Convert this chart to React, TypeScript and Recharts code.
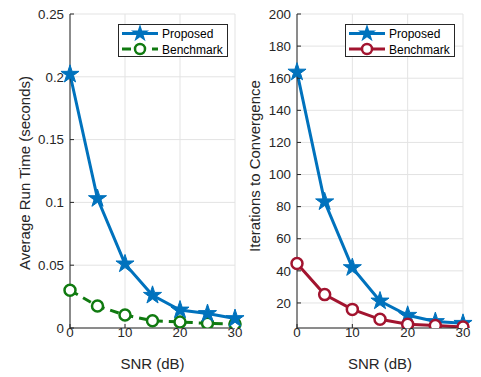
import React from "react";
import { LineChart, Line, XAxis, YAxis, CartesianGrid, Legend, Label } from "recharts";

const snr = [0, 5, 10, 15, 20, 25, 30];
const xTicks = [0, 10, 20, 30];

const runTimeProposed = [0.202, 0.103, 0.051, 0.026, 0.0143, 0.0115, 0.0075];
const runTimeBenchmark = [0.03, 0.0175, 0.0103, 0.0058, 0.0048, 0.0037, 0.0031];
const runTimeTicks = [0, 0.05, 0.1, 0.15, 0.2, 0.25];

const itersProposed = [163.8, 83, 42, 21.2, 12.3, 8.4, 7.3];
const itersBenchmark = [44.6, 25.2, 16, 9.8, 6.7, 5.9, 5];
const itersTicks = [20, 40, 60, 80, 100, 120, 140, 160, 180, 200];

const seriesNames = ["Proposed", "Benchmark"];

const BLUE = "#0072BD";
const GREEN = "#107A10";
const RED = "#A2142F";
const AXIS = "#262626";
const FONT = "'Liberation Sans', Arial, Helvetica, sans-serif";

const runTimeData = snr.map((s, i) => ({ snr: s, proposed: runTimeProposed[i], benchmark: runTimeBenchmark[i] }));
const itersData = snr.map((s, i) => ({ snr: s, proposed: itersProposed[i], benchmark: itersBenchmark[i] }));

function starPoints(cx: number, cy: number, R: number) {
    const r = R * 0.382;
    const pts: string[] = [];
    for (let i = 0; i < 10; i++) {
        const a = (-90 + i * 36) * Math.PI / 180;
        const rr = i % 2 === 0 ? R : r;
        pts.push(`${cx + rr * Math.cos(a)},${cy + rr * Math.sin(a)}`);
    }
    return pts.join(" ");
}

const StarDot = (props: any) => {
    const { cx, cy, index } = props;
    if (cx == null || cy == null) return null;
    return <polygon key={`s${index}`} points={starPoints(cx, cy, 9.5)} fill={BLUE} stroke={BLUE} strokeWidth={1} />;
};

const circleDot = (color: string) => (props: any) => {
    const { cx, cy, index } = props;
    if (cx == null || cy == null) return null;
    return <circle key={`c${index}`} cx={cx} cy={cy} r={5.5} fill="#fff" stroke={color} strokeWidth={2.5} />;
};

function LegendBox({ color, dashed }: { color: string; dashed: boolean }) {
    return (
        <svg width={110} height={33} style={{ display: "block" }}>
            <rect x={0.5} y={0.5} width={109} height={32} fill="#fff" stroke={AXIS} strokeWidth={1} />
            <line x1={4} y1={9.5} x2={40} y2={9.5} stroke={BLUE} strokeWidth={3} />
            <polygon points={starPoints(22, 9.5, 9.5)} fill={BLUE} />
            <text x={44} y={14} fontSize={12} fontFamily={FONT} fill="#000">{seriesNames[0]}</text>
            <line x1={4} y1={25} x2={40} y2={25} stroke={color} strokeWidth={3} strokeDasharray={dashed ? "9 6" : undefined} />
            <circle cx={22} cy={25} r={5} fill="#fff" stroke={color} strokeWidth={2.5} />
            <text x={44} y={29.5} fontSize={12} fontFamily={FONT} fill="#000">{seriesNames[1]}</text>
        </svg>
    );
}

const tickStyle = { fill: AXIS, fontSize: 13.3, fontFamily: FONT };

function YTitle({ text, x, y }: { text: string; x: number; y: number }) {
    return (
        <Label
            content={() => (
                <text x={x} y={y} transform={`rotate(-90 ${x} ${y})`} textAnchor="middle" dominantBaseline="central"
                    fontSize={15} fontFamily={FONT} fill={AXIS}>{text}</text>
            )}
        />
    );
}

function XTitle({ x }: { x: number }) {
    return (
        <Label
            content={() => (
                <text x={x} y={363} textAnchor="middle" dominantBaseline="central" fontSize={15} fontFamily={FONT} fill={AXIS}>SNR (dB)</text>
            )}
        />
    );
}

export default function App() {
    return (
        <div style={{ position: "absolute", left: 0, top: 0, width: 481, height: 377, background: "#fff" }}>
            <div style={{ position: "absolute", left: 0, top: 0 }}>
                <LineChart width={255} height={377} data={runTimeData} margin={{ top: 14, right: 20, left: 0, bottom: 0 }}>
                    <CartesianGrid stroke="#e3e3e3" strokeWidth={1} />
                    <XAxis dataKey="snr" type="number" domain={[0, 30]} ticks={xTicks} height={49}
                        stroke={AXIS} tick={tickStyle} tickSize={-4} tickMargin={4} interval={0}>
                        <XTitle x={152.5} />
                    </XAxis>
                    <YAxis type="number" domain={[0, 0.25]} ticks={runTimeTicks} width={70} allowDataOverflow
                        stroke={AXIS} tick={tickStyle} tickSize={-4} tickMargin={10} interval={0}>
                        <YTitle text="Average Run Time (seconds)" x={24} y={173} />
                    </YAxis>
                    <Legend layout="vertical" align="center" verticalAlign="middle" content={() => <LegendBox color={GREEN} dashed />}
                        wrapperStyle={{ position: "absolute", left: 118, top: 24, width: 110, height: 33 }} />
                    <Line dataKey="benchmark" stroke={GREEN} strokeWidth={3} strokeDasharray="9 6" dot={circleDot(GREEN)} isAnimationActive={false} />
                    <Line dataKey="proposed" stroke={BLUE} strokeWidth={3} dot={StarDot} isAnimationActive={false} />
                </LineChart>
            </div>
            <div style={{ position: "absolute", left: 240, top: 0 }}>
                <LineChart width={241} height={377} data={itersData} margin={{ top: 14, right: 18, left: 0, bottom: 0 }}>
                    <CartesianGrid stroke="#e3e3e3" strokeWidth={1} />
                    <XAxis dataKey="snr" type="number" domain={[0, 30]} ticks={xTicks} height={49}
                        stroke={AXIS} tick={tickStyle} tickSize={-4} tickMargin={4} interval={0}>
                        <XTitle x={140} />
                    </XAxis>
                    <YAxis type="number" domain={[4.4, 200]} ticks={itersTicks} width={57} allowDataOverflow
                        stroke={AXIS} tick={tickStyle} tickSize={-4} tickMargin={10} interval={0}>
                        <YTitle text="Iterations to Convergence" x={14} y={166} />
                    </YAxis>
                    <Legend layout="vertical" align="center" verticalAlign="middle" content={() => <LegendBox color={RED} dashed={false} />}
                        wrapperStyle={{ position: "absolute", left: 105, top: 24, width: 110, height: 33 }} />
                    <Line dataKey="proposed" stroke={BLUE} strokeWidth={3} dot={StarDot} isAnimationActive={false} />
                    <Line dataKey="benchmark" stroke={RED} strokeWidth={3} dot={circleDot(RED)} isAnimationActive={false} />
                </LineChart>
            </div>
        </div>
    );
}
